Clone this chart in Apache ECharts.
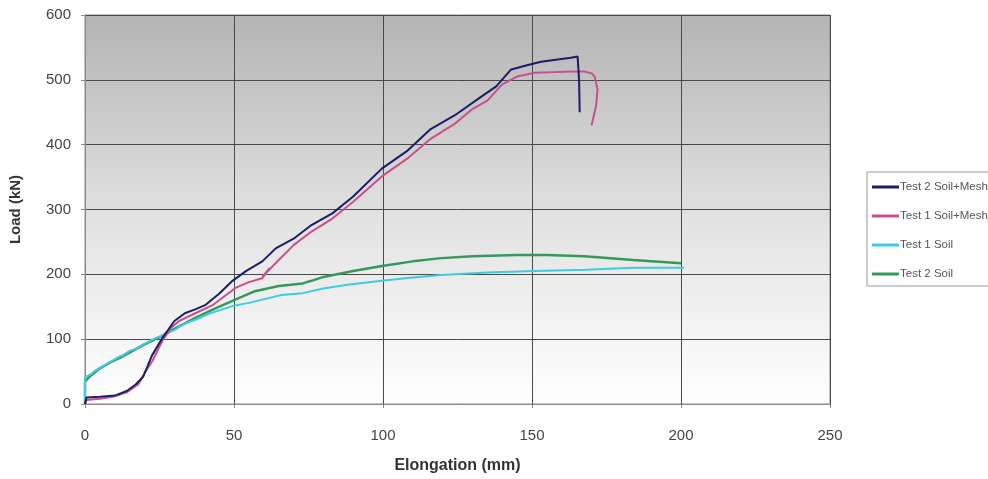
<!DOCTYPE html>
<html>
<head>
<meta charset="utf-8">
<script src="https://cdn.jsdelivr.net/npm/echarts@6/dist/echarts.min.js"></script>
<style>
  html, body { margin: 0; padding: 0; background: #ffffff; }
  #chart { width: 988px; height: 479px; }
</style>
</head>
<body>
<div id="chart"></div>
<script>
// Load–elongation curves from pull-out tests
const seriesNames = ['Test 2 Soil+Mesh', 'Test 1 Soil+Mesh', 'Test 1 Soil', 'Test 2 Soil'];

const test2MeshX = [0, 0.5, 5, 10, 14, 17, 19.5, 22.5, 26, 30, 33.5, 37, 40.5, 45, 49.5, 54, 59.5, 64, 70, 76, 83, 90, 99.6, 108, 116, 124, 133, 138, 143, 148, 153, 158, 163, 165.3, 165.8, 166];
const test2MeshY = [0, 10, 11, 13, 20, 30, 42, 75, 102, 128, 140, 146, 153, 170, 190, 205, 220, 240, 255, 276, 294, 320, 363, 390, 424, 445, 474, 490, 516, 522, 528, 531, 534, 536, 500, 450];

const test1MeshX = [0, 0.5, 5, 9.4, 14, 18, 20, 22.7, 26, 29, 31.6, 37, 43, 50.5, 55, 59.5, 62, 59.5, 65, 70, 76, 83, 90, 99.6, 108, 116, 124, 130, 135, 140, 145, 151, 158, 164, 167.5, 170, 171, 172, 171.5, 170];
const test1MeshY = [0, 6, 8, 11, 18, 31, 48, 67, 98, 118, 128, 140, 153, 179, 188, 194, 210, 196, 222, 245, 266, 286, 312, 351, 378, 409, 432, 455, 468, 493, 505, 511, 512, 513, 513, 510, 505, 485, 460, 430];

const test1SoilX = [0, 0, 2, 3, 5, 6, 8, 9, 11, 13, 15, 17, 20, 23, 26, 30, 33, 37, 42, 49.5, 55, 59.5, 66, 73, 80, 88, 99.6, 110, 119.6, 135, 151, 168, 184, 201];
const test1SoilY = [0, 41, 46, 50, 56, 58, 64, 66, 72, 76, 82, 85, 93, 100, 106, 114, 123, 130, 140, 151, 156, 161, 168, 171, 178, 184, 190, 195, 199, 203, 205, 207, 210, 210];

const test2SoilX = [0, 0, 2, 5, 8, 12, 16, 20, 25, 30, 37, 43, 49.5, 57, 65, 73, 76, 80, 90, 99.6, 110, 119.6, 130, 145, 155, 167.5, 184, 200];
const test2SoilY = [0, 35, 44, 55, 63, 72, 82, 92, 103, 116, 133, 146, 159, 174, 182, 186, 190, 196, 205, 213, 220, 225, 228, 230, 230, 228, 222, 217];

const xTicks = [0, 50, 100, 150, 200, 250];
const yTicks = [0, 100, 200, 300, 400, 500, 600];

const colors = ['#1d1d66', '#c8508c', '#3fcbe0', '#35995a'];

function pairs(xs, ys) { return xs.map((x, i) => [x, ys[i]]); }

const seriesData = [
  pairs(test2MeshX, test2MeshY),
  pairs(test1MeshX, test1MeshY),
  pairs(test1SoilX, test1SoilY),
  pairs(test2SoilX, test2SoilY)
];

const chart = echarts.init(document.getElementById('chart'));
const font = '"Liberation Sans", Arial, sans-serif';

chart.setOption({
  animation: false,
  textStyle: { fontFamily: font },
  grid: {
    left: 82, right: 158, top: 15, bottom: 72,
    show: true,
    borderColor: '#8a8a8a',
    borderWidth: 1,
    backgroundColor: {
      type: 'linear', x: 0, y: 0, x2: 0, y2: 1,
      colorStops: [
        { offset: 0, color: '#b4b4b4' },
        { offset: 0.55, color: '#e4e4e4' },
        { offset: 1, color: '#ffffff' }
      ]
    }
  },
  legend: {
    orient: 'vertical',
    left: 867, top: 172,
    data: seriesNames,
    icon: 'rect',
    itemWidth: 27, itemHeight: 3, itemGap: 17,
    padding: [9, 40, 6, 5],
    backgroundColor: '#ffffff',
    borderColor: '#999999', borderWidth: 1,
    textStyle: { fontSize: 11.5, color: '#555555', fontFamily: font, padding: [0, 0, 0, -4] }
  },
  xAxis: {
    type: 'value', min: xTicks[0], max: xTicks[xTicks.length - 1], interval: 50,
    name: 'Elongation (mm)', nameLocation: 'middle', nameGap: 54,
    nameTextStyle: { fontSize: 16, fontWeight: 'bold', color: '#333333', fontFamily: font },
    axisLine: { show: true, lineStyle: { color: '#8a8a8a' } },
    axisTick: { show: true, length: 4, lineStyle: { color: '#8a8a8a' } },
    axisLabel: { fontSize: 15, color: '#444444', margin: 24, fontFamily: font },
    splitLine: { show: true, lineStyle: { color: '#4a4a4a', width: 1 } }
  },
  yAxis: {
    type: 'value', min: yTicks[0], max: yTicks[yTicks.length - 1], interval: 100,
    name: 'Load (kN)', nameLocation: 'middle', nameGap: 62, nameRotate: 90,
    nameTextStyle: { fontSize: 15, fontWeight: 'bold', color: '#333333', fontFamily: font },
    axisLine: { show: true, lineStyle: { color: '#8a8a8a' } },
    axisTick: { show: true, length: 4, lineStyle: { color: '#8a8a8a' } },
    axisLabel: { fontSize: 15, color: '#444444', margin: 14, fontFamily: font },
    splitLine: { show: true, lineStyle: { color: '#4a4a4a', width: 1 } }
  },
  series: seriesNames.map((name, i) => ({
    name: name,
    type: 'line',
    data: seriesData[i],
    symbol: 'none',
    smooth: false,
    lineStyle: { color: colors[i], width: i === 3 ? 2.5 : 2 },
    itemStyle: { color: colors[i] },
    z: 10 - i
  }))
});
</script>
</body>
</html>
